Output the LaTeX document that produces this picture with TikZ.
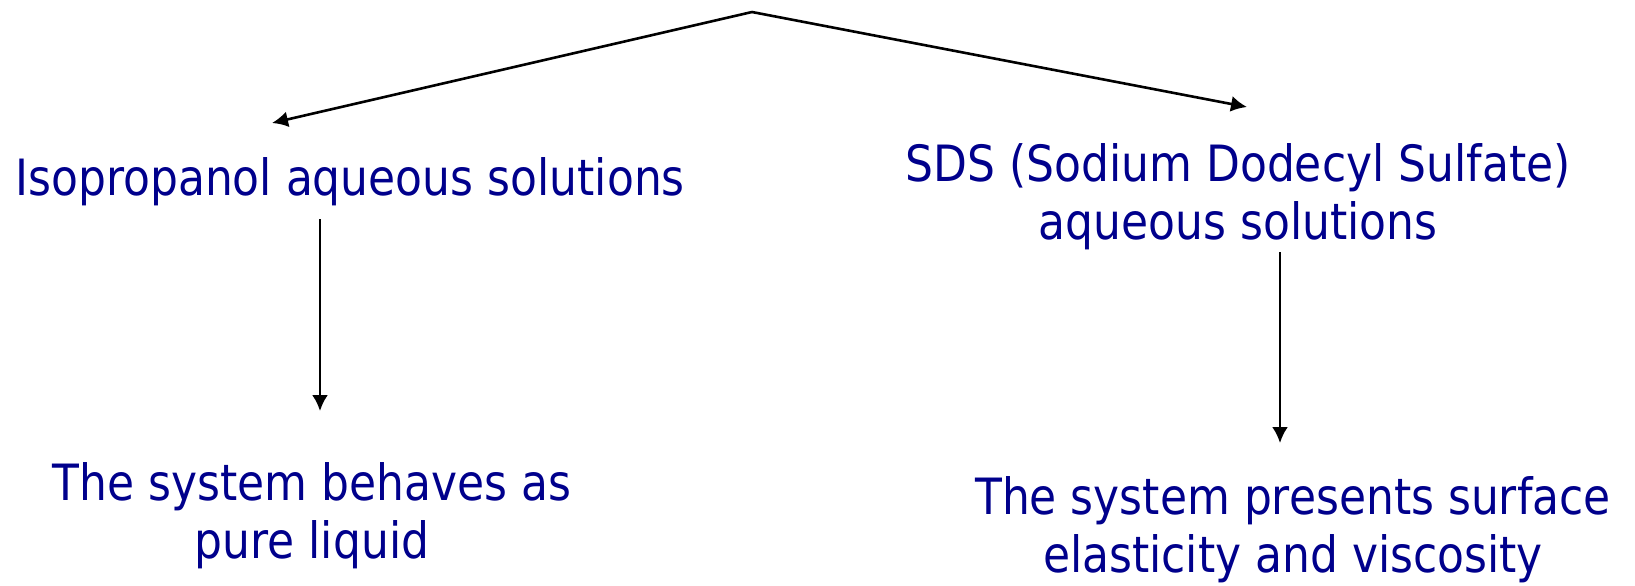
\documentclass[tikz,border=0pt]{standalone}
\usepackage{fontspec}
\setmainfont[FakeStretch=0.88]{DejaVu Sans}
\usepackage{tikz}
\usetikzlibrary{arrows.meta}
\definecolor{navytext}{RGB}{0,0,140}

\begin{document}
\begin{tikzpicture}[x=0.5pt, y=-0.5pt,
    txt/.style={text=navytext, align=center, inner sep=0pt, font=\fontsize{25}{29}\selectfont},
    arr/.style={line width=1.3pt, -{Latex[length=8pt,width=8pt]}}]
    \useasboundingbox (0,0) rectangle (1635,585);

    \coordinate (top) at (752,12);
    \coordinate (lefttip) at (272,123);
    \coordinate (righttip) at (1247,107);
    \node[txt] (iso) at (350,182) {Isopropanol aqueous solutions};
    \node[txt] (sds) at (1238,197) {SDS (Sodium Dodecyl Sulfate)\\aqueous solutions};
    \node[txt] (liquid) at (312,516) {The system behaves as\\pure liquid};
    \node[txt] (visc) at (1293,530) {The system presents surface\\elasticity and viscosity};
    \coordinate (isodown) at (320,219);
    \coordinate (isotip) at (320,411);
    \coordinate (sdsdown) at (1280,252);
    \coordinate (sdstip) at (1280,443);

    \draw[arr] (top) -- (lefttip);
    \draw[arr] (top) -- (righttip);
    \draw[arr] (isodown) -- (isotip);
    \draw[arr] (sdsdown) -- (sdstip);
\end{tikzpicture}
\end{document}
